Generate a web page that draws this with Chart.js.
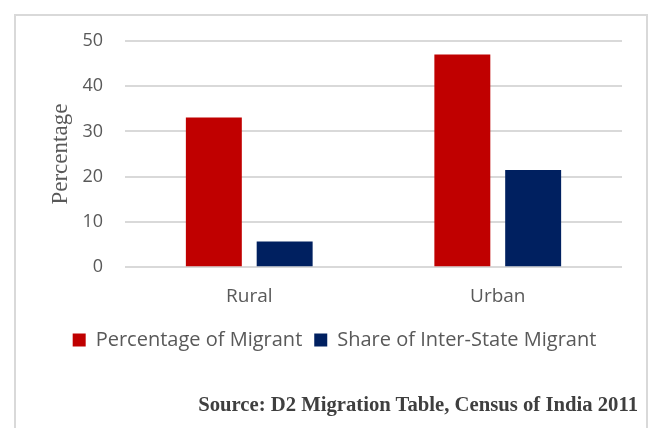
<!DOCTYPE html>
<html>
<head>
<meta charset="utf-8">
<script src="https://cdn.jsdelivr.net/npm/chart.js@4"></script>
<style>
  html, body { margin: 0; padding: 0; background: #fff; }
  #wrap { position: relative; width: 654px; height: 428px; overflow: hidden; }
  #frame { position: absolute; left: 14px; top: 14px; width: 634px; height: 440px;
           border: 2px solid #d9d9d9; box-sizing: border-box; }
  #chart-box { position: absolute; left: 0; top: 0; width: 654px; height: 428px; }
  #source { position: absolute; right: 16px; top: 393px; font-family: "Liberation Serif", "Times New Roman", serif;
            font-weight: bold; font-size: 20.7px; color: #3f3f3f; white-space: nowrap; }
</style>
</head>
<body>
<div id="wrap">
  <div id="frame"></div>
  <div id="chart-box"><canvas id="migration-chart"></canvas></div>
  <div id="source">Source: D2 Migration Table, Census of India 2011</div>
</div>
<script>
var categories = ['Rural', 'Urban'];
var migrantPct = [33.1, 47.0];
var interStateShare = [5.7, 21.5];
var yTicks = [0, 10, 20, 30, 40, 50];

var sans = '"Open Sans", "Noto Sans", sans-serif';
var grey = '#595959';

var ctx = document.getElementById('migration-chart').getContext('2d');
var migrationChart = new Chart(ctx, {
  type: 'bar',
  data: {
    labels: categories,
    datasets: [
      { label: 'Percentage of Migrant', data: migrantPct, backgroundColor: '#c00000' },
      { label: 'Share of Inter-State Migrant', data: interStateShare, backgroundColor: '#002060' }
    ]
  },
  options: {
    responsive: true,
    maintainAspectRatio: false,
    animation: false,
    categoryPercentage: 0.57,
    barPercentage: 0.79,
    layout: { padding: { left: 47, right: 32, top: 41, bottom: 68 } },
    plugins: {
      tooltip: { enabled: false },
      legend: {
        position: 'bottom',
        labels: {
          boxWidth: 13,
          boxHeight: 13,
          padding: 12,
          color: grey,
          font: { family: sans, size: 20 }
        }
      }
    },
    scales: {
      x: {
        grid: { display: false },
        border: { display: false },
        ticks: { color: grey, padding: 10, font: { family: sans, size: 19 } }
      },
      y: {
        min: yTicks[0],
        max: yTicks[yTicks.length - 1],
        afterBuildTicks: function(scale) {
          scale.ticks = yTicks.map(function(v) { return { value: v }; });
        },
        afterFit: function(scale) {
          // fixed axis width so the plot starts where the title + labels need it
          scale.width = 78;
        },
        grid: { color: '#d9d9d9', lineWidth: 2, drawTicks: false },
        border: { display: false },
        ticks: { color: grey, padding: 22, font: { family: sans, size: 18 } },
        title: {
          display: true,
          text: 'Percentage',
          color: grey,
          padding: 0,
          font: { family: '"Liberation Serif", "Times New Roman", serif', size: 23 }
        }
      }
    }
  }
});
</script>
</body>
</html>
